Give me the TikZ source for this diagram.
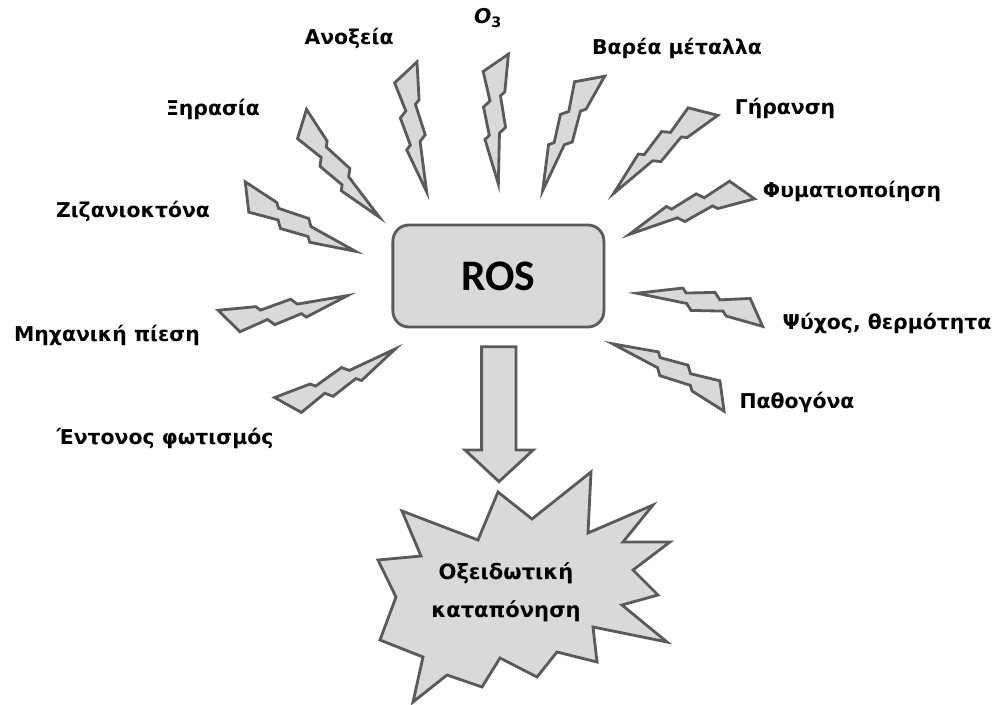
\documentclass[tikz,border=0pt]{standalone}
\usepackage{fontspec}
\setmainfont{DejaVu Sans}
\newfontfamily\calibrifont{Carlito}
\usepackage{tikz}
\usetikzlibrary{positioning}
\definecolor{shapefill}{HTML}{D9D9D9}
\definecolor{shapeline}{HTML}{5A5A5A}

\begin{document}
\begin{tikzpicture}[
  grayshape/.style={draw=shapeline, fill=shapefill, line width=2pt},
  cause/.style={font=\fontsize{14.5}{17}\selectfont\bfseries, inner sep=1pt},
  bolt/.pic={
    \draw[grayshape] (-0.21,0.32) -- (0.73,0.21) -- (0.83,0.10) -- (1.62,0.21) -- (1.76,0.055)
      -- (3.03,0) -- (1.91,-0.31) -- (1.81,-0.20) -- (1.10,-0.33) -- (0.95,-0.165) -- (0.21,-0.32) -- cycle;
  }
]
  \useasboundingbox (0,0) rectangle (25.025,17.6);

  % Central box
  \node[grayshape, rounded corners=0.4cm, minimum width=5.275cm, minimum height=2.55cm,
        font=\calibrifont\fontsize{31}{36}\selectfont\bfseries] (ros) at (12.46,10.7) {ROS};

  % Causes
  \node[cause] (anoxia) at (8.725,16.65) {Ανοξεία};
  \node[cause] (ozone) at (12.2,17.15) {\textit{O}\textsubscript{3}};
  \node[cause] (metals) at (16.925,16.4) {Βαρέα μέταλλα};
  \node[cause] (drought) at (5.325,14.875) {Ξηρασία};
  \node[cause] (ageing) at (19.625,14.9) {Γήρανση};
  \node[cause] (plantlets) at (21.3,12.825) {Φυματιοποίηση};
  \node[cause] (herbicides) at (3.325,12.325) {Ζιζανιοκτόνα};
  \node[cause] (temperature) at (22.175,9.525) {Ψύχος, θερμότητα};
  \node[cause] (pressure) at (2.675,9.225) {Μηχανική πίεση};
  \node[cause] (pathogens) at (19.925,7.55) {Παθογόνα};
  \node[cause] (light) at (4.125,6.65) {Έντονος φωτισμός};

  % Bolts towards ROS
  \pic[rotate=-50.3] at (7.55,14.50) {bolt};
  \pic[rotate=-80.1] at (10.145,15.79) {bolt};
  \pic[rotate=-88.8] at (12.395,16.03) {bolt};
  \pic[rotate=-112.8] at (14.74,15.625) {bolt};
  \pic[rotate=-137.5] at (17.575,14.81) {bolt};
  \pic[rotate=-158.5] at (18.55,12.85) {bolt};
  \pic[rotate=170.9] at (18.91,9.79) {bolt};
  \pic[rotate=154.5] at (18.05,7.70) {bolt};
  \pic[rotate=-26.6] at (6.175,12.675) {bolt};
  \pic[rotate=12.1] at (5.725,9.575) {bolt};
  \pic[rotate=27.6] at (7.20,7.475) {bolt};

  % Block arrow
  \draw[grayshape] (12.04,8.93) -- (12.90,8.93) -- (12.90,6.35) -- (13.33,6.35)
    -- (12.475,5.56) -- (11.625,6.35) -- (12.04,6.35) -- cycle;

  % Explosion
  \draw[grayshape] (12.45,5.30) -- (13.30,4.625) -- (14.775,5.80) -- (14.70,4.275)
    -- (16.325,4.975) -- (15.575,4.05) -- (16.75,4.05) -- (15.825,3.35)
    -- (16.45,2.725) -- (15.55,2.475) -- (16.675,1.55) -- (14.825,1.925)
    -- (14.925,1.05) -- (13.925,1.30) -- (13.425,0.675) -- (12.50,1.15)
    -- (12.05,0.425) -- (11.175,0.725) -- (10.325,0.05) -- (10.575,1.175)
    -- (9.50,1.60) -- (9.90,2.675) -- (9.45,3.60) -- (10.525,3.70)
    -- (10.05,4.825) -- (11.95,4.10) -- cycle;
  \node[cause, align=center, font=\fontsize{15}{27}\selectfont\bfseries] (stress) at (12.65,2.8) {Οξειδωτική\\καταπόνηση};
\end{tikzpicture}
\end{document}
